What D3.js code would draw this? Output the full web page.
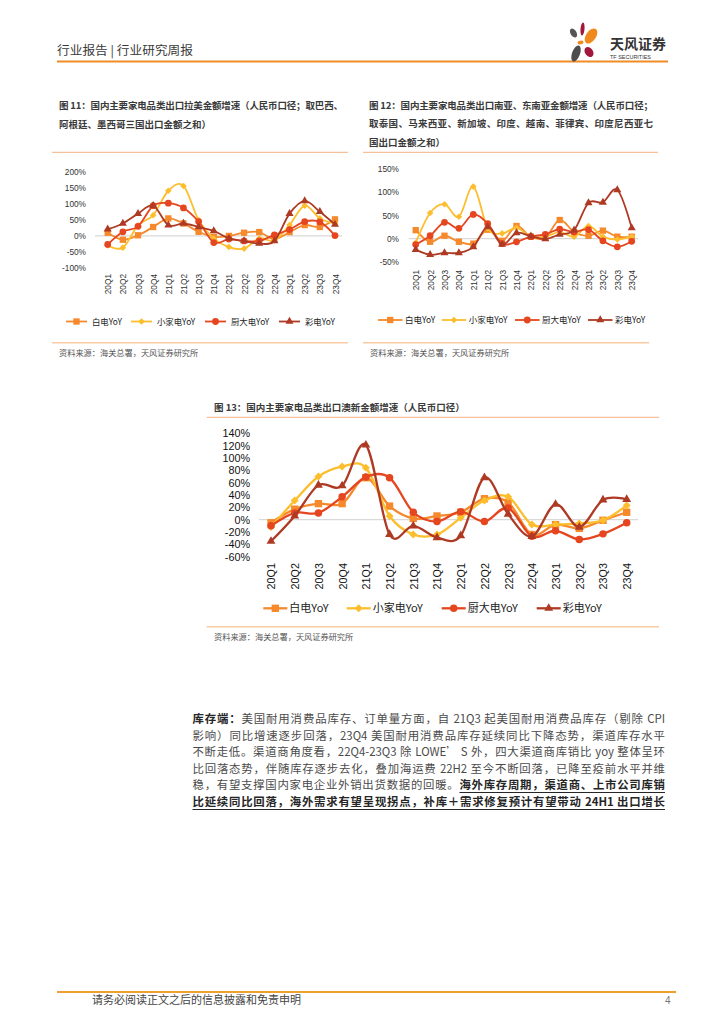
<!DOCTYPE html>
<html><head><meta charset="utf-8">
<script src="https://cdn.jsdelivr.net/npm/d3@7/dist/d3.min.js"></script>
<style>
body{margin:0;background:#fff;}
#page{position:relative;width:724px;height:1024px;overflow:hidden;}
svg{position:absolute;left:0;top:0;}
.pl{position:absolute;left:192.5px;width:472.5px;font-family:"Noto Sans CJK SC",sans-serif;font-size:11.4px;line-height:16px;color:#4a4a4a;text-align:justify;text-align-last:justify;}
.pl b{color:#262626;font-weight:700;}
.pl u{text-decoration:underline;text-underline-offset:2.5px;text-decoration-thickness:1px;}
</style></head>
<body><div id="page">
<div class="pl" style="top:710px"><b>库存端：</b>美国耐用消费品库存、订单量方面，自 21Q3 起美国耐用消费品库存（剔除 CPI</div>
<div class="pl" style="top:727px">影响）同比增速逐步回落，23Q4 美国耐用消费品库存延续同比下降态势，渠道库存水平</div>
<div class="pl" style="top:743px">不断走低。渠道商角度看，22Q4-23Q3 除 LOWE’ S 外，四大渠道商库销比 yoy 整体呈环</div>
<div class="pl" style="top:760px">比回落态势，伴随库存逐步去化，叠加海运费 22H2 至今不断回落，已降至疫前水平并维</div>
<div class="pl" style="top:776px">稳，有望支撑国内家电企业外销出货数据的回暖。<b><u>海外库存周期，渠道商、上市公司库销</u></b></div>
<div class="pl" style="top:793px"><b><u>比延续同比回落，海外需求有望呈现拐点，补库＋需求修复预计有望带动 24H1 出口增长</u></b></div>
</div>
<script>
// ---------------- DATA ----------------
const quarters = ["20Q1","20Q2","20Q3","20Q4","21Q1","21Q2","21Q3","21Q4","22Q1","22Q2","22Q3","22Q4","23Q1","23Q2","23Q3","23Q4"];
const seriesNames = ["白电YoY","小家电YoY","厨大电YoY","彩电YoY"];

// 图11 拉美
const fig11White   = [10,-12,2,28,55,39,13,-3,0,10,12,-10,12,34,28,52];
const fig11Small   = [-30,-37,33,65,142,157,50,-8,-35,-40,-8,-14,34,95,55,39];
const fig11Kitchen = [-27,13,30,95,103,88,45,-21,-10,-16,-16,3,20,45,44,1];
const fig11TV      = [21,39,70,95,34,39,28,16,-8,-16,-24,-16,70,110,76,36];
const fig11Ticks   = [200,150,100,50,0,-50,-100];

// 图12 南亚、东南亚
const fig12White   = [18,-7,6,-7,-11,19,-5,27,4,2,40,14,6,17,4,4];
const fig12Small   = [-9,55,74,47,112,22,11,23,4,4,14,4,27,4,-2,4];
const fig12Kitchen = [-13,6,35,22,52,32,-11,-7,4,9,20,14,19,-5,-18,-6];
const fig12TV      = [-24,-35,-31,-31,-18,25,-13,12,5,-1,9,18,77,78,105,23];
const fig12Ticks   = [150,100,50,0,-50];

// 图13 澳新
const fig13White   = [-5,17,26,26,68,22,2,6,12,34,28,-24,-8,-14,-1,12];
const fig13Small   = [-12,31,70,86,84,6,-24,-24,3,31,37,-8,-8,-6,-1,23];
const fig13Kitchen = [-10,11,11,37,69,68,12,-3,13,-3,19,-27,-18,-32,-23,-5];
const fig13TV      = [-35,6,56,55,121,-24,-10,-29,-26,68,9,-27,25,-12,32,33];
const fig13Ticks   = [140,120,100,80,60,40,20,0,-20,-40,-60];

// ---------------- STYLE ----------------
const colors = ["#F5892B","#FDBE2E","#E5461F","#AE3A24"];
const symbols = [d3.symbolSquare, d3.symbolSquare, d3.symbolCircle, d3.symbolTriangle];
const rot = [0,45,0,0];
const cjk = '"Noto Sans CJK SC", sans-serif';
const latin = '"Liberation Sans", Arial, sans-serif';

const svg = d3.select("#page").insert("svg", ":first-child").attr("width",724).attr("height",1024);

// ---------------- HEADER ----------------
svg.append("text").attr("x",57).attr("y",55).attr("font-family",cjk).attr("font-size",12)
  .attr("fill","#3a3a3a").attr("textLength",136).attr("lengthAdjust","spacingAndGlyphs")
  .text("行业报告 | 行业研究周报");
svg.append("line").attr("x1",57).attr("x2",668).attr("y1",61.5).attr("y2",61.5)
  .attr("stroke","#F08C25").attr("stroke-width",2);
const logo = svg.append("g");
[[573.5,33,3,5,-30,"#555555"],[582.5,29,2,6.5,5,"#A3173A"],[591,36,5,8.5,35,"#F08A1D"],
 [580.5,42.5,3,1.8,-10,"#F08A1D"],[576,53.5,4,8.5,20,"#4D4D4D"],[589,52,4,5.5,-35,"#A3173A"]]
 .forEach(p=>logo.append("ellipse").attr("cx",p[0]).attr("cy",p[1]).attr("rx",p[2]).attr("ry",p[3])
   .attr("transform",`rotate(${p[4]},${p[0]},${p[1]})`).attr("fill",p[5]));
logo.append("text").attr("x",610).attr("y",49).attr("font-family",cjk).attr("font-size",14)
  .attr("font-weight",700).attr("fill","#333").text("天风证券");
logo.append("text").attr("x",610).attr("y",58.5).attr("font-family",latin).attr("font-size",5.5)
  .attr("fill","#333").attr("textLength",41).attr("lengthAdjust","spacingAndGlyphs").text("TF SECURITIES");

// ---------------- FOOTER ----------------
svg.append("line").attr("x1",57).attr("x2",676).attr("y1",992).attr("y2",992)
  .attr("stroke","#F0A030").attr("stroke-width",2);
svg.append("text").attr("x",92).attr("y",1004).attr("font-family",cjk).attr("font-size",11)
  .attr("fill","#444").text("请务必阅读正文之后的信息披露和免责申明");
svg.append("text").attr("x",665).attr("y",1004).attr("font-family",latin).attr("font-size",10)
  .attr("fill","#777").text("4");

// ---------------- CHART FUNCTION ----------------
function drawChart(cfg){
  const g = svg.append("g");
  // titles
  cfg.title.forEach((t,i)=>{
    const tx = g.append("text").attr("x",cfg.titleX).attr("y",cfg.titleY[i])
      .attr("font-family",cjk).attr("font-size",9.5).attr("font-weight",700).attr("fill","#3a3a3a").text(t[0]);
    if(t[1]) tx.attr("textLength",t[1]).attr("lengthAdjust","spacing");
  });
  g.append("line").attr("x1",cfg.box[0]).attr("x2",cfg.box[1]).attr("y1",cfg.topLine).attr("y2",cfg.topLine)
    .attr("stroke","#F4B183").attr("stroke-width",1);
  g.append("line").attr("x1",cfg.box[0]).attr("x2",cfg.box[2]).attr("y1",cfg.botLine).attr("y2",cfg.botLine)
    .attr("stroke","#F8CBA4").attr("stroke-width",1.6);
  g.append("text").attr("x",cfg.srcX).attr("y",cfg.botLine+13.5).attr("font-family",cjk).attr("font-size",8.2)
    .attr("fill","#555").text("资料来源：海关总署，天风证券研究所");

  const x = d3.scalePoint().domain(quarters).range(cfg.xRange);
  const y = d3.scaleLinear().domain(cfg.yDomain).range(cfg.yRange);

  g.append("line").attr("x1",cfg.zeroX[0]).attr("x2",cfg.zeroX[1]).attr("y1",y(0)).attr("y2",y(0))
    .attr("stroke","#D9D9D9").attr("stroke-width",1.3);

  const ya = g.append("g").attr("transform",`translate(${cfg.yLabelX},0)`)
    .call(d3.axisLeft(y).tickValues(cfg.ticks).tickFormat(d=>d+"%").tickSize(0).tickPadding(0));
  ya.select(".domain").remove();
  ya.selectAll("text").attr("font-family",latin).attr("font-size",cfg.tickFont).attr("fill",cfg.tickColor);

  const xa = g.append("g").attr("transform",`translate(0,${cfg.xLabelTop})`)
    .call(d3.axisBottom(x).tickSize(0).tickPadding(0));
  xa.select(".domain").remove();
  xa.selectAll("text").attr("transform","rotate(-90)").attr("text-anchor","end")
    .attr("x",0).attr("y",0).attr("dy","0.36em")
    .attr("font-family",latin).attr("font-size",cfg.tickFont).attr("fill",cfg.tickColor);

  const line = d3.line().x((d,i)=>x(quarters[i])).y(d=>y(d)).curve(d3.curveCardinal.tension(0));
  cfg.series.forEach((s,k)=>{
    g.append("path").datum(s).attr("d",line).attr("fill","none")
      .attr("stroke",colors[k]).attr("stroke-width",cfg.lineW).attr("stroke-linejoin","round");
    g.selectAll(null).data(s).join("path")
      .attr("d",d3.symbol(symbols[k],cfg.msize[k]))
      .attr("transform",(d,i)=>`translate(${x(quarters[i])},${y(d)}) rotate(${rot[k]})`)
      .attr("fill",colors[k]);
  });

  // legend
  seriesNames.forEach((n,k)=>{
    const lx = cfg.legendX[k];
    g.append("line").attr("x1",lx).attr("x2",lx+cfg.legendLen).attr("y1",cfg.legendY).attr("y2",cfg.legendY)
      .attr("stroke",colors[k]).attr("stroke-width",cfg.lineW);
    g.append("path").attr("d",d3.symbol(symbols[k],cfg.msize[k]))
      .attr("transform",`translate(${lx+cfg.legendLen/2},${cfg.legendY}) rotate(${rot[k]})`).attr("fill",colors[k]);
    g.append("text").attr("x",lx+cfg.legendTextDx).attr("y",cfg.legendY).attr("dy","0.36em")
      .attr("font-family",cjk).attr("font-size",cfg.legendFont).attr("fill","#222").text(n);
  });
}

drawChart({
  series:[fig11White,fig11Small,fig11Kitchen,fig11TV], ticks:fig11Ticks,
  title:[["图 11：国内主要家电品类出口拉美金额增速（人民币口径；取巴西、",284],["阿根廷、墨西哥三国出口金额之和）",0]],
  titleX:59, titleY:[108.5,128], box:[52,348,348], topLine:152.3, botLine:342.7, srcX:59,
  yDomain:[-100,200], yRange:[267.7,172.3], xRange:[107.7,335], zeroX:[95,342],
  yLabelX:86, xLabelTop:274, tickFont:8.3, tickColor:"#333",
  lineW:1.8, msize:[40,22,36,28],
  legendY:321.5, legendX:[66,131,205,279], legendLen:21, legendTextDx:26, legendFont:8.4
});

drawChart({
  series:[fig12White,fig12Small,fig12Kitchen,fig12TV], ticks:fig12Ticks,
  title:[["图 12：国内主要家电品类出口南亚、东南亚金额增速（人民币口径；",284],["取泰国、马来西亚、新加坡、印度、越南、菲律宾、印度尼西亚七",284],["国出口金额之和）",0]],
  titleX:369, titleY:[108.5,127,145.5], box:[363,658,649], topLine:152.3, botLine:342.7, srcX:370,
  yDomain:[-50,150], yRange:[261.7,169], xRange:[415.7,631.7], zeroX:[409,638],
  yLabelX:399, xLabelTop:270, tickFont:8.3, tickColor:"#333",
  lineW:1.8, msize:[40,22,36,28],
  legendY:320, legendX:[378,441.7,515,588], legendLen:24.5, legendTextDx:27, legendFont:8.5
});

drawChart({
  series:[fig13White,fig13Small,fig13Kitchen,fig13TV], ticks:fig13Ticks,
  title:[["图 13：国内主要家电品类出口澳新金额增速（人民币口径）",0]],
  titleX:214, titleY:[410.5], box:[206.7,659,659], topLine:417.3, botLine:626.7, srcX:214,
  yDomain:[-60,140], yRange:[556.7,433.3], xRange:[271,626.7], zeroX:[259,638],
  yLabelX:250, xLabelTop:563, tickFont:10.8, tickColor:"#111",
  lineW:2.3, msize:[54,32,44,34],
  legendY:608.3, legendX:[263.3,346.7,441.7,536.7], legendLen:24, legendTextDx:26, legendFont:11
});
</script>
</body></html>
